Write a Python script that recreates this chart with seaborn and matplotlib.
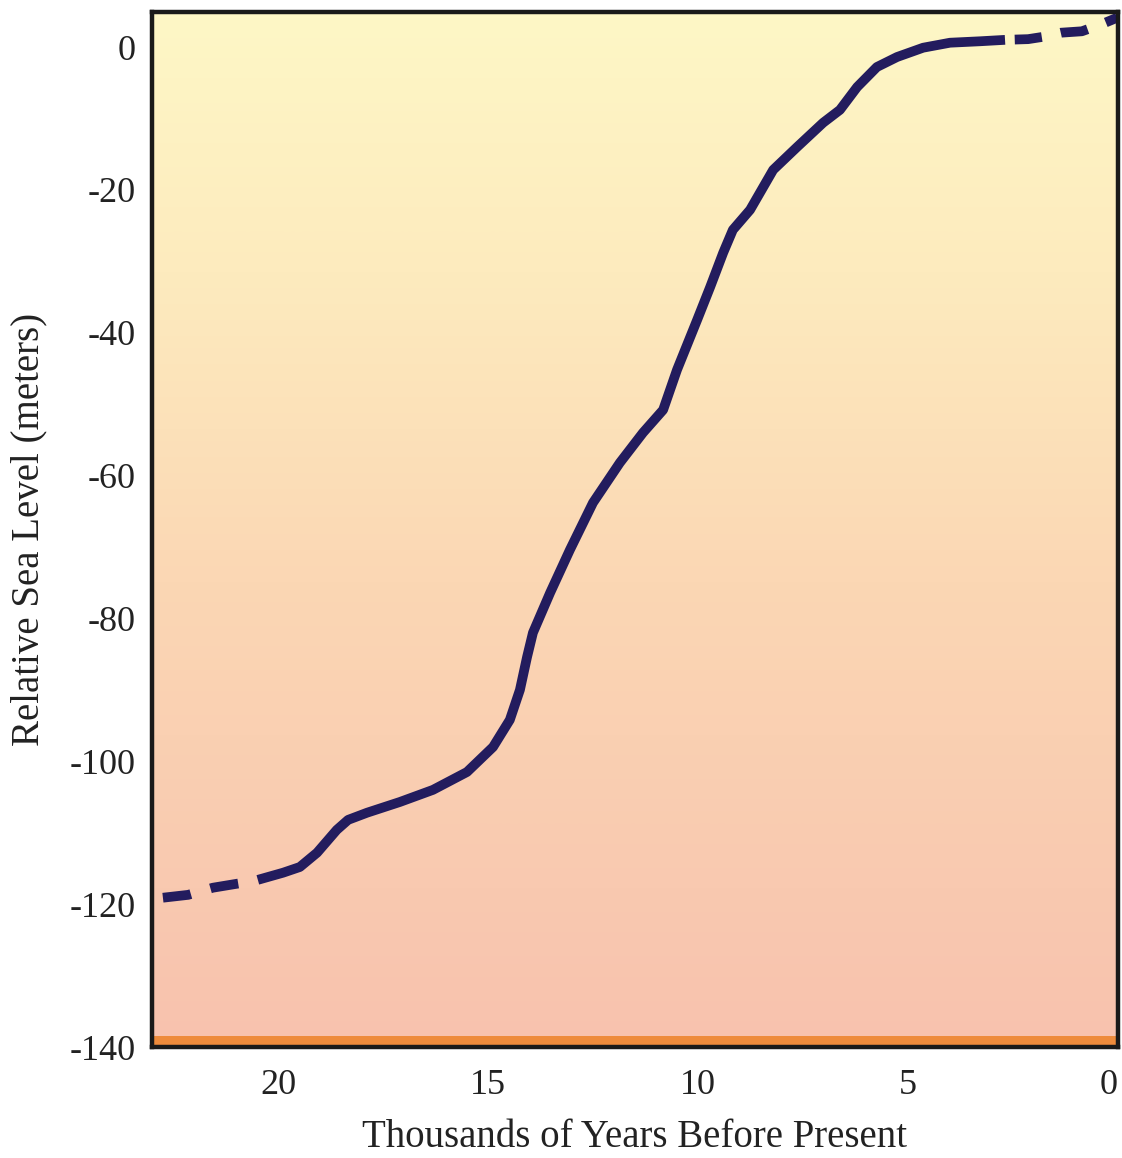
import numpy as np
import pandas as pd
import matplotlib
matplotlib.use("Agg")
import matplotlib.pyplot as plt
import seaborn as sns
from matplotlib.colors import LinearSegmentedColormap

# ---- data (thousands of years before present, relative sea level in m) ----
years_early = [22.74, 22.14, 21.55, 20.83, 20.48]
level_early = [-119.1, -118.7, -117.7, -117.0, -116.6]

years_main = [20.48, 19.88, 19.48, 19.07, 18.60, 18.33, 17.88, 17.10, 16.31,
              15.50, 14.88, 14.48, 14.24, 14.07, 13.93, 13.52, 13.05, 12.50,
              11.86, 11.31, 10.83, 10.50, 10.02, 9.71, 9.40, 9.17, 8.76, 8.21,
              7.64, 7.02, 6.62, 6.21, 5.74, 5.26, 4.64, 4.0, 3.29, 2.69]
level_main = [-116.6, -115.6, -114.8, -112.8, -109.6, -108.2, -107.2, -105.7,
              -104.0, -101.5, -98.0, -94.2, -90.0, -85.4, -82.0, -76.4, -70.4,
              -63.8, -58.2, -54.0, -50.8, -45.2, -38.2, -33.6, -28.8, -25.6,
              -22.8, -17.2, -14.0, -10.6, -8.8, -5.6, -2.8, -1.4, -0.1, 0.6,
              0.8, 1.0]

years_late = [2.69, 2.14, 1.81, 1.36, 0.86, 0.43, 0.02]
level_late = [1.0, 1.1, 1.4, 2.0, 2.2, 3.1, 4.1]

y_ticks = [-140, -120, -100, -80, -60, -40, -20, 0]
x_ticks = [20, 15, 10, 5, 0]

line_color = "#231C5E"

sns.set_theme(style="white")
plt.rcParams['font.family'] = ['Liberation Serif', 'DejaVu Serif']

fig = plt.figure(figsize=(11.22, 11.58), dpi=100)
ax = fig.add_axes([152 / 1122, 1 - 1047 / 1158, (1118 - 152) / 1122, (1047 - 12) / 1158])

ymin, ymax = -140, 4.9
xmin, xmax = 23.0, 0.0

# background gradient
cmap = LinearSegmentedColormap.from_list(
    "bg", [(0.0, "#F8C2AE"), (0.45, "#FBD7B4"), (0.75, "#FDEBBE"), (1.0, "#FEF7C6")])
grad = np.linspace(0, 1, 256).reshape(-1, 1)
ax.imshow(grad, aspect="auto", cmap=cmap, origin="lower",
          extent=[xmin, xmax, ymin, ymax], zorder=0, interpolation="bicubic")

# orange floor band
ax.axhspan(-140, -138.4, color="#EE8B3C", zorder=1, lw=0)

df_early = pd.DataFrame({"years": years_early, "level": level_early})
df_main = pd.DataFrame({"years": years_main, "level": level_main})
df_late = pd.DataFrame({"years": years_late, "level": level_late})

lw = 7.0
sns.lineplot(data=df_early, x="years", y="level", ax=ax, sort=False,
             color=line_color, lw=lw, zorder=3)
ax.lines[-1].set_dashes([2.9, 2.1])
ax.lines[-1].set_dash_capstyle("butt")
sns.lineplot(data=df_main, x="years", y="level", ax=ax, sort=False,
             color=line_color, lw=lw, zorder=3)
ax.lines[-1].set_solid_capstyle("butt")
ax.lines[-1].set_solid_joinstyle("round")
sns.lineplot(data=df_late, x="years", y="level", ax=ax, sort=False,
             color=line_color, lw=lw, zorder=3)
ax.lines[-1].set_dashes([0.0, 1.0, 2.8, 1.0])
ax.lines[-1].set_dash_capstyle("butt")
ax.lines[-1].set_dash_joinstyle("round")

ax.set_xlim(xmin, xmax)
ax.set_ylim(ymin, ymax)
ax.set_xticks(x_ticks)
ax.set_yticks(y_ticks)
ax.set_xticklabels([str(t) for t in x_ticks])
ax.set_yticklabels([str(t) for t in y_ticks])
ax.get_xticklabels()[-1].set_ha("right")

for s in ax.spines.values():
    s.set_visible(True)
    s.set_color("#1a1a1a")
    s.set_linewidth(3.2)
    s.set_zorder(5)

ax.tick_params(axis="both", direction="in", length=13, width=2.2, color="#1a1a1a",
               labelsize=26, labelcolor="#222222")
ax.tick_params(axis="y", pad=12)
ax.tick_params(axis="x", pad=16)

ax.set_xlabel("Thousands of Years Before Present", fontsize=28, color="#222222", labelpad=12)
ax.set_ylabel("Relative Sea Level (meters)", fontsize=28, color="#222222", labelpad=16)

fig.savefig("out.png", dpi=100, facecolor="white")
